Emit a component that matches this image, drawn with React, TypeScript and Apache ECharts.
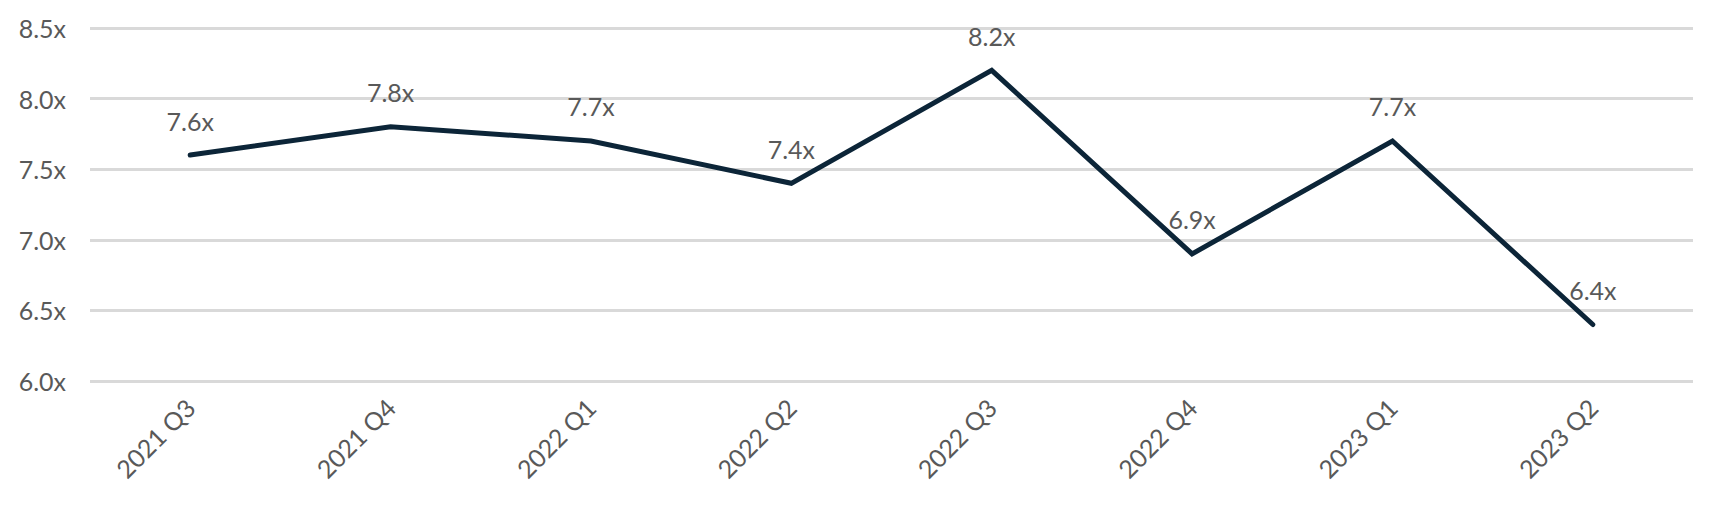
import React, { useEffect, useRef } from "react";
import * as echarts from "echarts";

const categories = ["2021 Q3", "2021 Q4", "2022 Q1", "2022 Q2", "2022 Q3", "2022 Q4", "2023 Q1", "2023 Q2"];
const multiples = [7.6, 7.8, 7.7, 7.4, 8.2, 6.9, 7.7, 6.4];
const yMin = 6.0;
const yMax = 8.5;
const yStep = 0.5;

const FONT = "Lato, 'Noto Sans', sans-serif";
const TEXT = "#595959";

export default function App() {
  const ref = useRef<HTMLDivElement>(null);
  useEffect(() => {
    document.body.style.margin = "0";
    if (!ref.current) return;
    const chart = echarts.init(ref.current, undefined, { renderer: "svg" });
    chart.setOption({
      animation: false,
      backgroundColor: "#ffffff",
      grid: { left: 90, right: 18, top: 28, bottom: 131, containLabel: false },
      xAxis: {
        type: "category",
        data: categories,
        boundaryGap: true,
        axisLine: { show: false },
        axisTick: { show: false },
        splitLine: { show: false },
        axisLabel: {
          rotate: 45,
          margin: 22,
          color: TEXT,
          fontFamily: FONT,
          fontSize: 25,
        },
      },
      yAxis: {
        type: "value",
        min: yMin,
        max: yMax,
        interval: yStep,
        axisLine: { show: false },
        axisTick: { show: false },
        splitLine: { show: true, lineStyle: { color: "#d9d9d9", width: 3 } },
        axisLabel: {
          margin: 24,
          color: TEXT,
          fontFamily: FONT,
          fontSize: 25,
          formatter: (v: number) => v.toFixed(1) + "x",
        },
      },
      series: [
        {
          type: "line",
          data: multiples,
          symbol: "circle",
          symbolSize: 2,
          showSymbol: true,
          itemStyle: { color: "rgba(0,0,0,0)", borderWidth: 0 },
          lineStyle: { color: "#0c2538", width: 5, cap: "round", join: "miter" },
          label: {
            show: true,
            position: "top",
            distance: 21,
            color: TEXT,
            fontFamily: FONT,
            fontSize: 25,
            formatter: (p: any) => Number(p.value).toFixed(1) + "x",
          },
        },
      ],
    });
    return () => chart.dispose();
  }, []);
  return <div ref={ref} style={{ width: 1711, height: 512 }} />;
}
